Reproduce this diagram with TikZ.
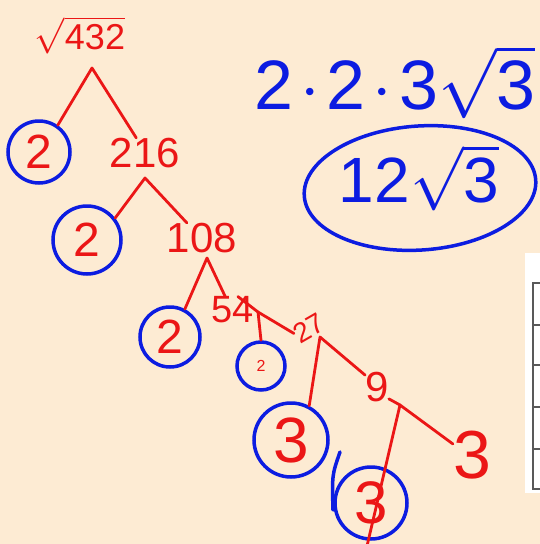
\RequirePackage{fix-cm}
\documentclass[tikz,border=0pt]{standalone}
\usepackage{fontspec}
\setmainfont{Liberation Sans}
\usetikzlibrary{shapes.geometric}
\definecolor{papier}{RGB}{253,235,211}
\definecolor{rougeStylo}{RGB}{235,22,22}
\definecolor{bleuStylo}{RGB}{12,28,225}

\begin{document}
\begin{tikzpicture}[x=1pt, y=-1pt,
		num/.style={text=rougeStylo, inner sep=0pt, font=\fontsize{42}{42}\selectfont},
		prime/.style={circle, draw=bleuStylo, line width=3.5pt, text=rougeStylo,
			inner sep=0pt, minimum size=62pt, font=\fontsize{48}{48}\selectfont},
		branch/.style={draw=rougeStylo, line width=2.8pt, line cap=round, line join=round},
		res/.style={text=bleuStylo, inner sep=0pt},
		oval/.style={ellipse, draw=bleuStylo, line width=3.5pt, minimum width=232pt,
			minimum height=124pt, rotate=4}
		]
		\fill[papier] (0,0) rectangle (540,544);
		\useasboundingbox (0,0) rectangle (540,544);
		
		% table cut off at the right edge
		\fill[white] (525,253) rectangle (545,493);
		\draw[gray!70!black, line width=1.2pt] (545,283) -- (533,283) -- (533,489) -- (545,489);
		\foreach \yy in {325,365,407,449}
		\draw[gray!70!black, line width=1.2pt] (533,\yy) -- (545,\yy);
		
		% factor tree
		\node[num, font=\fontsize{36}{36}\selectfont] (root) at (80,35) {$\sqrt{\mbox{432}}$};
		\node[prime]                        (c1)   at (39,152)  {2};
		\node[num]                          (n216) at (145,153) {216};
		\node[prime, minimum size=68pt]     (c2)   at (87,240)  {2};
		\node[num]                          (n108) at (202,238) {108};
		\node[prime, minimum size=60pt]     (c3)   at (170,337) {2};
		\node[num, font=\fontsize{38}{38}\selectfont] (n54) at (233,310) {54};
		\node[prime, minimum size=48pt, font=\fontsize{16}{16}\selectfont] (c4) at (261,366) {2};
		\node[num, rotate=30, font=\fontsize{28}{28}\selectfont] (n27) at (309,328) {27};
		\node[prime, minimum size=74pt, font=\fontsize{64}{64}\selectfont] (c5) at (291,440) {3};
		\node[num]                          (n9)   at (377,387) {9};
		\node[prime, minimum size=72pt, font=\fontsize{60}{60}\selectfont] (c6) at (371,503) {3};
		\node[num, font=\fontsize{68}{68}\selectfont] (n3) at (472,455) {3};
		
		\coordinate (k1) at (92,68);
		\coordinate (k2) at (145,178);
		\coordinate (k3) at (207,258);
		\coordinate (k4) at (258,312);
		\coordinate (k5) at (320,337);
		\coordinate (k6) at (400,405);
		\coordinate (fin) at (367,546);
		
		\draw[branch] (c1.55)  -- (k1) -- (n216.120);
		\draw[branch] (c2.38)  -- (k2) -- (n108.135);
		\draw[branch] (c3.62)  -- (k3) -- (n54.120);
		\draw[branch] (n54.70) -- (k4) -- (n27.170);
		\draw[branch] (k4) -- (c4.90);
		\draw[branch] (c5.62)  -- (k5) -- (n9.135);
		\draw[branch] (n9.-45) -- (k6) -- (n3.150);
		\draw[branch] (k6) -- (fin);
		\draw[bleuStylo, line width=3.5pt, line cap=round] (340,452) .. controls (332,475) .. (333,510);
		
		% result
		\node[res, font=\fontsize{70}{70}\selectfont] (prod) at (395,82) {2\kern7pt$\cdot$\kern7pt2\kern7pt$\cdot$\kern7pt3$\sqrt{\mbox{3}}$};
		\node[oval] (boite) at (420,188) {};
		\node[res, font=\fontsize{64}{64}\selectfont] (ans) at (419,178) {12$\sqrt{\mbox{3}}$};
\end{tikzpicture}
\end{document}
